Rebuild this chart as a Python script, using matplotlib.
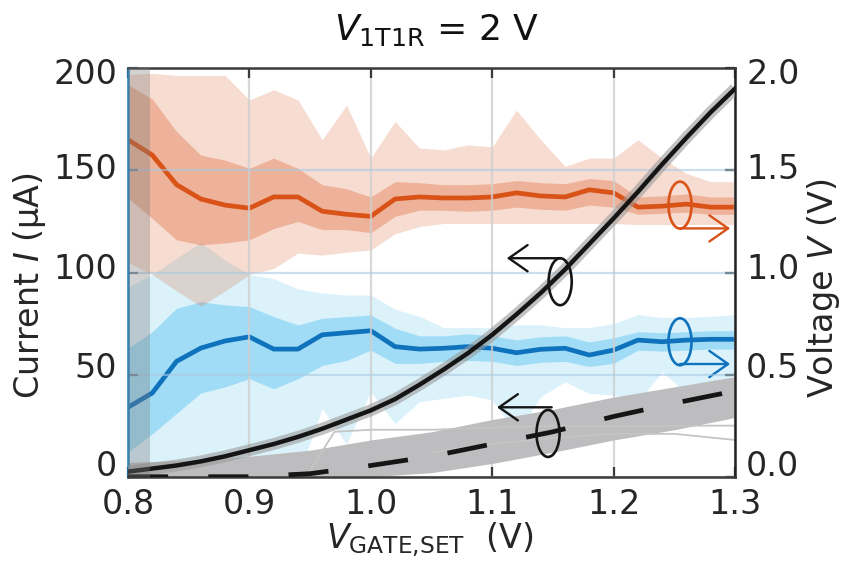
import numpy as np
import matplotlib
matplotlib.use('Agg')
import matplotlib.pyplot as plt
import matplotlib.transforms as mtransforms
from matplotlib.patches import Ellipse

plt.rcParams['font.family'] = ['DejaVu Sans']
plt.rcParams['mathtext.fontset'] = 'dejavusans'

# DATA
vgate = [0.80, 0.82, 0.84, 0.86, 0.88, 0.90, 0.92, 0.94, 0.96, 0.98, 1.00, 1.02, 1.04,
         1.06, 1.08, 1.10, 1.12, 1.14, 1.16, 1.18, 1.20, 1.22, 1.24, 1.26, 1.28, 1.30]

# voltage across the cell (right axis, V), orange series
v_or = [1.65, 1.575, 1.43, 1.36, 1.33, 1.315, 1.37, 1.37, 1.30, 1.285, 1.275, 1.36, 1.37,
        1.365, 1.365, 1.37, 1.39, 1.375, 1.37, 1.405, 1.39, 1.32, 1.325, 1.335, 1.32, 1.32]
v_or_in_hi = [1.92, 1.85, 1.69, 1.575, 1.55, 1.51, 1.56, 1.51, 1.43, 1.41, 1.37, 1.445, 1.44,
              1.43, 1.43, 1.435, 1.45, 1.44, 1.435, 1.46, 1.45, 1.37, 1.375, 1.385, 1.37, 1.37]
v_or_in_lo = [1.365, 1.265, 1.16, 1.135, 1.145, 1.16, 1.215, 1.25, 1.21, 1.21, 1.195, 1.275, 1.305,
              1.305, 1.30, 1.305, 1.32, 1.31, 1.305, 1.33, 1.32, 1.285, 1.29, 1.295, 1.285, 1.285]
v_or_out_hi = [1.97, 1.975, 1.965, 1.965, 1.965, 1.845, 1.895, 1.845, 1.65, 1.82, 1.56, 1.74, 1.61,
               1.60, 1.625, 1.615, 1.795, 1.65, 1.52, 1.56, 1.56, 1.65, 1.56, 1.485, 1.445, 1.445]
v_or_out_lo = [1.05, 0.99, 0.91, 0.835, 0.91, 0.99, 1.02, 1.095, 1.085, 1.10, 1.11, 1.19, 1.225,
               1.24, 1.24, 1.24, 1.24, 1.24, 1.24, 1.24, 1.24, 1.235, 1.235, 1.235, 1.235, 1.235]

# blue series (right axis, V)
v_bl = [0.34, 0.41, 0.565, 0.63, 0.665, 0.685, 0.625, 0.625, 0.695, 0.705, 0.715, 0.637, 0.625,
        0.629, 0.637, 0.629, 0.607, 0.624, 0.629, 0.596, 0.62, 0.669, 0.661, 0.669, 0.673, 0.673]
v_bl_in_hi = [0.63, 0.71, 0.825, 0.857, 0.841, 0.833, 0.784, 0.743, 0.776, 0.784, 0.792, 0.727, 0.69,
              0.69, 0.70, 0.69, 0.67, 0.685, 0.69, 0.66, 0.68, 0.71, 0.705, 0.71, 0.715, 0.715]
v_bl_in_lo = [0.12, 0.21, 0.31, 0.41, 0.44, 0.48, 0.43, 0.48, 0.545, 0.57, 0.62, 0.555, 0.555,
              0.565, 0.57, 0.565, 0.545, 0.56, 0.565, 0.54, 0.555, 0.62, 0.615, 0.62, 0.625, 0.625]
v_bl_out_hi = [0.93, 0.99, 1.07, 1.147, 1.06, 0.99, 0.97, 0.92, 0.90, 0.89, 0.89, 0.82, 0.786,
               0.73, 0.73, 0.73, 0.744, 0.744, 0.73, 0.73, 0.75, 0.794, 0.78, 0.78, 0.786, 0.794]
v_bl_out_lo = [0.0, 0.0, 0.0, 0.0, 0.0, 0.0, 0.0, 0.0, 0.334, 0.16, 0.416, 0.26, 0.367,
               0.384, 0.40, 0.376, 0.21, 0.392, 0.465, 0.408, 0.40, 0.367, 0.514, 0.408, 0.449, 0.498]

# current (left axis, uA), solid black
i_solid = [2.5, 4, 5.5, 7.5, 10, 13, 16, 19.5, 23.5, 28, 32.5, 38, 45,
           52.5, 60.5, 69.5, 79.5, 90, 101.5, 114, 126.5, 139.5, 153, 166, 178.5, 190]

# dashed current and the bundle of grey traces around it
vgate_c = [0.80, 0.85, 0.90, 0.95, 1.00, 1.05, 1.10, 1.15, 1.20, 1.25, 1.30]
i_dash = [0, 0, 0, 1.5, 5.5, 10, 16, 22, 29.5, 36, 42]
i_grey_hi = [7, 8, 10, 13, 18, 22, 28, 33, 39, 44, 49]
i_grey_lo = [0, 0, 0, 0, 0, 2, 6.5, 12, 18, 23, 29]

vgate_o1 = [0.95, 0.97, 1.00, 1.05, 1.10, 1.15, 1.20, 1.25, 1.30]
i_out1 = [3, 22, 23, 23, 24, 25, 25, 25, 25]
vgate_o2 = [1.05, 1.10, 1.15, 1.20, 1.25, 1.30]
i_out2 = [12, 16, 19, 21, 21, 18]

xticks = [0.8, 0.9, 1.0, 1.1, 1.2, 1.3]
xticklabels = ['0.8', '0.9', '1.0', '1.1', '1.2', '1.3']
yticks_i = [0, 50, 100, 150, 200]
yticks_v = [0.0, 0.5, 1.0, 1.5, 2.0]
yticklabels_v = ['0.0', '0.5', '1.0', '1.5', '2.0']

ORANGE = '#d95319'
BLUE = '#0f72bd'
LBLUE = '#4dbeee'
TXT = '#262626'
FS = 24

fig = plt.figure(figsize=(8.46, 5.71), dpi=100)
ax1 = fig.add_axes([0.1513, 0.1651, 0.7175, 0.7153])
ax2 = ax1.twinx()
ax1.set_zorder(2)
ax2.set_zorder(1)
ax1.patch.set_visible(False)

# right axis: orange / blue voltage bands
ax2.fill_between(vgate, v_bl_out_lo, v_bl_out_hi, color=LBLUE, alpha=0.2, lw=0)
ax2.fill_between(vgate, v_bl_in_lo, v_bl_in_hi, color=LBLUE, alpha=0.41, lw=0)
ax2.fill_between(vgate, v_or_out_lo, v_or_out_hi, color=ORANGE, alpha=0.2, lw=0)
ax2.fill_between(vgate, v_or_in_lo, v_or_in_hi, color=ORANGE, alpha=0.3, lw=0)
ax2.plot(vgate, v_bl, color=BLUE, lw=3.4)
ax2.plot(vgate, v_or, color=ORANGE, lw=3.4)

# left axis: currents
ax1.fill_between(vgate_c, i_grey_lo, i_grey_hi, color='#bdbdbf', lw=0, zorder=2)
ax1.plot(vgate_o1, i_out1, color='#c4c4c4', lw=1.3, zorder=2)
ax1.plot(vgate_o2, i_out2, color='#c4c4c4', lw=1.3, zorder=2)
ax1.plot(vgate, i_solid, color='#9a9a9a', lw=8.5, alpha=0.6, zorder=3, solid_capstyle='butt')
ax1.plot(vgate, i_solid, color='#151515', lw=3.2, zorder=4)
ax1.plot(vgate_c, i_dash, color='#151515', lw=3.4, dashes=(8.5, 8.5), zorder=4)

# grey strip at the left edge
ax1.axvspan(0.8, 0.818, color='#7f7f7f', alpha=0.35, lw=0, zorder=10)

# ellipses + arrows
arr = dict(arrowstyle='->,head_length=0.5,head_width=0.35', lw=1.7, shrinkA=0, shrinkB=0,
           mutation_scale=27)
ax1.add_patch(Ellipse((1.156, 95.5), 0.019, 23, fill=False, ec='#151515', lw=1.9, zorder=6))
ax1.annotate('', xy=(1.112, 107), xytext=(1.156, 107),
             arrowprops=dict(arr, color='#151515'), zorder=6)
ax1.add_patch(Ellipse((1.146, 21.2), 0.019, 23, fill=False, ec='#151515', lw=1.9, zorder=6))
ax1.annotate('', xy=(1.104, 34), xytext=(1.149, 34),
             arrowprops=dict(arr, color='#151515'), zorder=6)
ax2.add_patch(Ellipse((1.2547, 1.33), 0.019, 0.23, fill=False, ec=ORANGE, lw=1.9, zorder=6))
ax2.annotate('', xy=(1.296, 1.216), xytext=(1.2547, 1.216),
             arrowprops=dict(arr, color=ORANGE), zorder=6)
ax2.add_patch(Ellipse((1.2547, 0.661), 0.019, 0.23, fill=False, ec=BLUE, lw=1.9, zorder=6))
ax2.annotate('', xy=(1.296, 0.552), xytext=(1.2547, 0.552),
             arrowprops=dict(arr, color=BLUE), zorder=6)

# axes
ax1.set_xlim(0.8, 1.3)
ax1.set_ylim(0, 200)
ax2.set_ylim(0, 2.0)
ax1.set_xticks(xticks)
ax1.set_xticklabels(xticklabels)
ax1.set_yticks(yticks_i)
ax2.set_yticks(yticks_v)
ax2.set_yticklabels(yticklabels_v)

ax1.xaxis.grid(True, color='#cfcfcf', lw=1.6, alpha=0.8)
ax1.yaxis.grid(True, color='#a9cbe4', lw=1.6, alpha=0.6)

ax1.tick_params(axis='x', direction='in', length=7, width=1.6, colors='#3a3a3a',
                labelcolor=TXT, labelsize=FS, pad=8, top=True)
ax1.tick_params(axis='y', direction='in', length=7, width=1.6, colors='#7a8fa5',
                labelcolor=TXT, labelsize=FS, pad=8)
ax2.tick_params(axis='y', direction='in', length=7, width=1.6, colors='#222222',
                labelcolor=TXT, labelsize=FS, pad=8)

# the y tick labels sit a little above their ticks in the original, more so near the bottom
lift = [14, 10, 7, 4, -3]
for lab, d in zip(ax1.get_yticklabels(), lift):
    lab.set_transform(lab.get_transform() + mtransforms.ScaledTranslation(0, d / 100, fig.dpi_scale_trans))
for lab, d in zip(ax2.get_yticklabels(), lift):
    lab.set_transform(lab.get_transform() + mtransforms.ScaledTranslation(0, d / 100, fig.dpi_scale_trans))

for s in ['top', 'bottom', 'right']:
    ax1.spines[s].set_color('#3a3a3a')
    ax1.spines[s].set_linewidth(1.8)
ax1.spines['right'].set_color('#222222')
ax1.spines['left'].set_color('#1a7fc1')
ax1.spines['left'].set_linewidth(1.8)
for s in ax2.spines.values():
    s.set_visible(False)

ax1.set_xlabel(r'$V_{\mathrm{GATE{,}SET}}$  (V)', fontsize=FS, color=TXT)
ax1.xaxis.set_label_coords(0.4975, -0.105)
ax1.set_ylabel(r'Current $I$ (µA)', fontsize=FS, color=TXT)
ax1.yaxis.set_label_coords(-0.132, 0.469)
ax2.set_ylabel(r'Voltage $V$ (V)', fontsize=FS, color=TXT)
ax2.yaxis.set_label_coords(1.115, 0.462)

fig.text(0.5165, 0.948, r'$V_{\mathrm{1T1R}}$ = 2 V', fontsize=26, color='#111111',
         ha='center', va='center')

fig.savefig('out.png', dpi=100, facecolor='white')
